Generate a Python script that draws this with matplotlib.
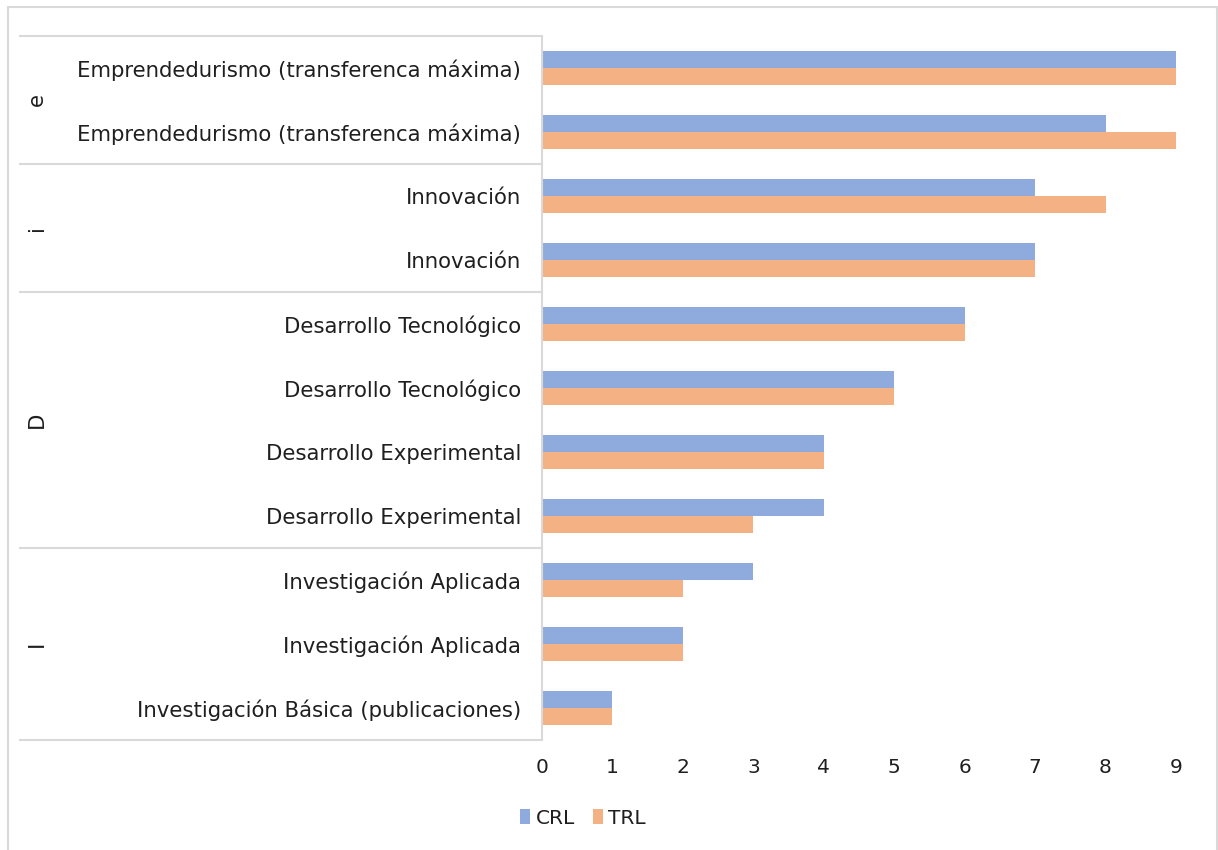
import numpy as np
import matplotlib.pyplot as plt
from matplotlib.patches import Rectangle

# categories bottom -> top
categories = [
    "Investigación Básica (publicaciones)",
    "Investigación Aplicada",
    "Investigación Aplicada",
    "Desarrollo Experimental",
    "Desarrollo Experimental",
    "Desarrollo Tecnológico",
    "Desarrollo Tecnológico",
    "Innovación",
    "Innovación",
    "Emprendedurismo (transferenca máxima)",
    "Emprendedurismo (transferenca máxima)",
]
crl = [1, 2, 3, 4, 4, 5, 6, 7, 7, 8, 9]
trl = [1, 2, 2, 3, 4, 5, 6, 7, 8, 9, 9]

group_names = ["I", "D", "i", "e"]
group_sizes = [3, 4, 2, 2]

blue = "#8FAADC"
orange = "#F4B183"
grid_col = "#D9D9D9"
txt = "#1f1f1f"
narrow = ['Liberation Sans Narrow', 'DejaVu Sans']

plt.rcParams['font.family'] = ['DejaVu Sans']

fig = plt.figure(figsize=(12.18, 8.5), dpi=100)
ax = fig.add_axes([542 / 1218, 1 - 740 / 850, 634 / 1218, 704 / 850])

y = np.arange(len(categories))
h = 0.265
ax.barh(y + h / 2, crl, height=h, color=blue, label="CRL")
ax.barh(y - h / 2, trl, height=h, color=orange, label="TRL")

ax.set_xlim(0, 9)
ax.set_ylim(-0.5, len(categories) - 0.5)
ax.set_xticks(range(10))
ax.set_yticks(y)
ax.set_yticklabels(categories)
ax.tick_params(axis='both', length=0, labelsize=15.3, colors=txt)
ax.tick_params(axis='y', pad=15)
ax.tick_params(axis='x', pad=13)
for lbl in ax.get_xticklabels():
    lbl.set_family(narrow)
    lbl.set_fontsize(14.5)
for s in ["top", "right", "bottom"]:
    ax.spines[s].set_visible(False)
ax.spines["left"].set_color(grid_col)
ax.spines["left"].set_linewidth(1.5)

# group separators and labels
tr = ax.get_yaxis_transform()
x_left = (20 - 542) / 634
bounds = np.concatenate([[0], np.cumsum(group_sizes)]) - 0.5
for b in bounds:
    ax.plot([x_left, 0], [b, b], transform=tr, color=grid_col, lw=1.5, clip_on=False)
for name, lo, hi in zip(group_names, bounds[:-1], bounds[1:]):
    ax.text((37 - 542) / 634, (lo + hi) / 2, name, transform=tr, rotation=90,
            ha='center', va='center', fontsize=15.3, color=txt)

# outer chart frame
fig.patches.append(Rectangle((8 / 1218, -0.01), 1209 / 1218, 1 - 7 / 850 + 0.01,
                             transform=fig.transFigure, fill=False,
                             edgecolor=grid_col, lw=1.5))

fig.legend(loc='center', bbox_to_anchor=(583 / 1218, 1 - 818 / 850), ncol=2, frameon=False,
           prop={'family': narrow, 'size': 14.5}, handlelength=0.5, handleheight=0.7,
           handletextpad=0.25, columnspacing=0.9, labelcolor=txt)

plt.savefig("out.png", dpi=100)
